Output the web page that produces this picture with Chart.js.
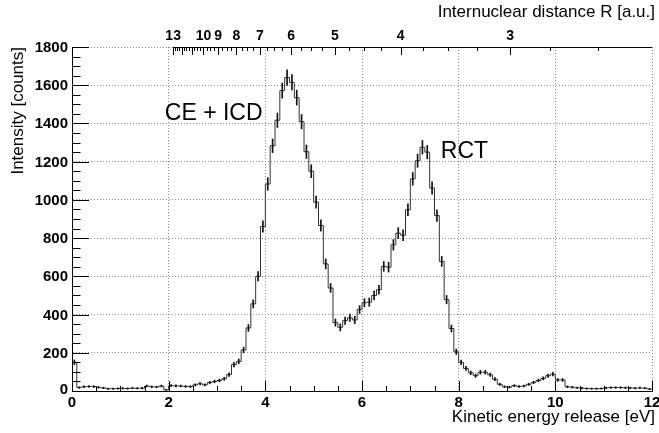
<!DOCTYPE html>
<html><head><meta charset="utf-8">
<script src="https://cdn.jsdelivr.net/npm/chart.js@4.4.1/dist/chart.umd.min.js"></script>
<style>html,body{margin:0;padding:0;background:#fff;}canvas{display:block;}</style>
</head><body>
<canvas id="c" width="659" height="433"></canvas>
<script>
// ---- data ----
const binWidth = 0.1;
const xMin = 0, xMax = 12;
const counts = [
  150, 18, 22, 24, 23, 19, 16, 12, 12, 13,
  14, 13, 15, 14, 15, 26, 22, 21, 26, 6,
  28, 27, 26, 24, 23, 32, 38, 32, 44, 50,
  55, 64, 86, 138, 155, 215, 330, 456, 600, 861,
  1083, 1283, 1417, 1572, 1640, 1615, 1535, 1409, 1252, 1150,
  988, 866, 665, 539, 358, 333, 368, 383, 372, 426,
  462, 465, 500, 530, 652, 648, 765, 826, 815, 948,
  1110, 1205, 1275, 1250, 1062, 918, 678, 478, 327, 205,
  150, 118, 95, 80, 98, 98, 85, 62, 35, 22,
  20, 28, 24, 26, 35, 45, 55, 66, 80, 88,
  58, 58, 22, 20, 17, 15, 13, 12, 12, 13,
  16, 18, 18, 18, 17, 16, 15, 16, 15, 10
];
const xTickValues = [0, 2, 4, 6, 8, 10, 12];
const xTickLabels = ['0', '2', '4', '6', '8', '10', '12'];
const yTickValues = [0, 200, 400, 600, 800, 1000, 1200, 1400, 1600, 1800];
const yTickLabels = ['0', '200', '400', '600', '800', '1000', '1200', '1400', '1600', '1800'];
const rTickValues = [13, 10, 9, 8, 7, 6, 5, 4, 3];
const rTickLabels = ['13', '10', '9', '8', '7', '6', '5', '4', '3'];
const rFactor = 27.2; // KER [eV] = 27.2 / R [a.u.]
const xTitle = 'Kinetic energy release [eV]';
const yTitle = 'Intensity [counts]';
const topTitle = 'Internuclear distance R [a.u.]';
const labelCE = 'CE + ICD';
const labelRCT = 'RCT';

// ---- derived datasets ----
const stepData = counts.map((v, i) => ({x: xMin + i * binWidth, y: v}));
stepData.push({x: xMax, y: counts[counts.length - 1]});
const errData = counts.map((v, i) => ({x: xMin + (i + 0.5) * binWidth, y: [v - Math.sqrt(v), v + Math.sqrt(v)]}));

const FONT = "'Liberation Sans', Arial, Helvetica, sans-serif";

const rootAxes = {
  id: 'rootAxes',
  afterDraw(chart) {
    const {ctx, chartArea: a, scales: {x, y}} = chart;
    const px = v => Math.round(x.getPixelForValue(v)) + 0.5;
    const py = v => Math.round(y.getPixelForValue(v)) + 0.5;
    ctx.save();
    ctx.strokeStyle = '#000';
    ctx.lineWidth = 1;
    ctx.beginPath();
    for (let v = xMin; v <= xMax + 1e-9; v += 0.5) {
      const major = xTickValues.some(t => Math.abs(t - v) < 1e-6);
      const len = major ? 10 : 5;
      ctx.moveTo(px(v), a.bottom);
      ctx.lineTo(px(v), a.bottom - len);
    }
    for (let v = 0; v <= 1800 + 1e-9; v += 50) {
      const major = yTickValues.some(t => Math.abs(t - v) < 1e-6);
      const len = major ? 17 : 8.5;
      ctx.moveTo(a.left, py(v));
      ctx.lineTo(a.left + len, py(v));
    }
    const topY = Math.round(a.top) + 0.5;
    ctx.moveTo(x.getPixelForValue(rFactor / 13), topY);
    ctx.lineTo(a.right, topY);
    for (let R = 13; R >= 2.5 - 1e-9; R -= 0.25) {
      const isInt = Math.abs(R - Math.round(R)) < 1e-6;
      const len = isInt ? 8 : 4;
      const xx = px(rFactor / R);
      ctx.moveTo(xx, a.top);
      ctx.lineTo(xx, a.top + len);
    }
    ctx.stroke();

    ctx.fillStyle = '#000';
    ctx.font = 'bold 15px ' + FONT;
    ctx.textAlign = 'center';
    ctx.textBaseline = 'alphabetic';
    xTickValues.forEach((v, i) => ctx.fillText(xTickLabels[i], x.getPixelForValue(v), 407));
    ctx.textAlign = 'right';
    yTickValues.forEach((v, i) => {
      const off = v === 0 ? 3 : 5;
      ctx.fillText(yTickLabels[i], a.left - 4, y.getPixelForValue(v) + off);
    });
    ctx.font = 'bold 14px ' + FONT;
    ctx.textAlign = 'center';
    rTickValues.forEach((R, i) => ctx.fillText(rTickLabels[i], x.getPixelForValue(rFactor / R), 40));

    ctx.font = '17px ' + FONT;
    ctx.textAlign = 'right';
    ctx.fillText(xTitle, 655, 422);
    ctx.fillText(topTitle, 655, 17);
    ctx.save();
    ctx.translate(23, a.top);
    ctx.rotate(-Math.PI / 2);
    ctx.textAlign = 'right';
    ctx.fillText(yTitle, 0, 0);
    ctx.restore();

    ctx.font = '23px ' + FONT;
    ctx.textAlign = 'left';
    ctx.fillText(labelCE, x.getPixelForValue(1.92), y.getPixelForValue(1418));
    ctx.fillText(labelRCT, x.getPixelForValue(7.63), y.getPixelForValue(1219));
    ctx.restore();
  }
};

Chart.defaults.font.family = FONT;
new Chart(document.getElementById('c'), {
  type: 'line',
  data: {
    datasets: [
      {
        type: 'bar',
        data: errData,
        backgroundColor: '#111',
        borderWidth: 0,
        barThickness: 1,
        grouped: false,
        order: 1
      },
      {
        type: 'line',
        data: stepData,
        stepped: 'before',
        borderColor: '#333',
        borderWidth: 1,
        pointRadius: 0,
        fill: false,
        order: 2
      }
    ]
  },
  options: {
    responsive: false,
    devicePixelRatio: 1,
    animation: false,
    events: [],
    layout: {padding: {left: 72, right: 7, top: 47, bottom: 42}},
    plugins: {legend: {display: false}, tooltip: {enabled: false}},
    scales: {
      x: {
        type: 'linear', min: xMin, max: xMax, offset: false,
        ticks: {display: false, stepSize: 2},
        grid: {color: '#8c8c8c', lineWidth: 1, drawTicks: false, offset: false},
        border: {display: true, color: '#000', width: 1, dash: [1, 2]},
        afterFit: s => { s.height = 0; }
      },
      y: {
        type: 'linear', min: 0, max: 1800,
        ticks: {display: false, stepSize: 200},
        grid: {color: '#8c8c8c', lineWidth: 1, drawTicks: false},
        border: {display: true, color: '#000', width: 1, dash: [1, 2]},
        afterFit: s => { s.width = 0; }
      }
    }
  },
  plugins: [rootAxes]
});
</script>
</body></html>
